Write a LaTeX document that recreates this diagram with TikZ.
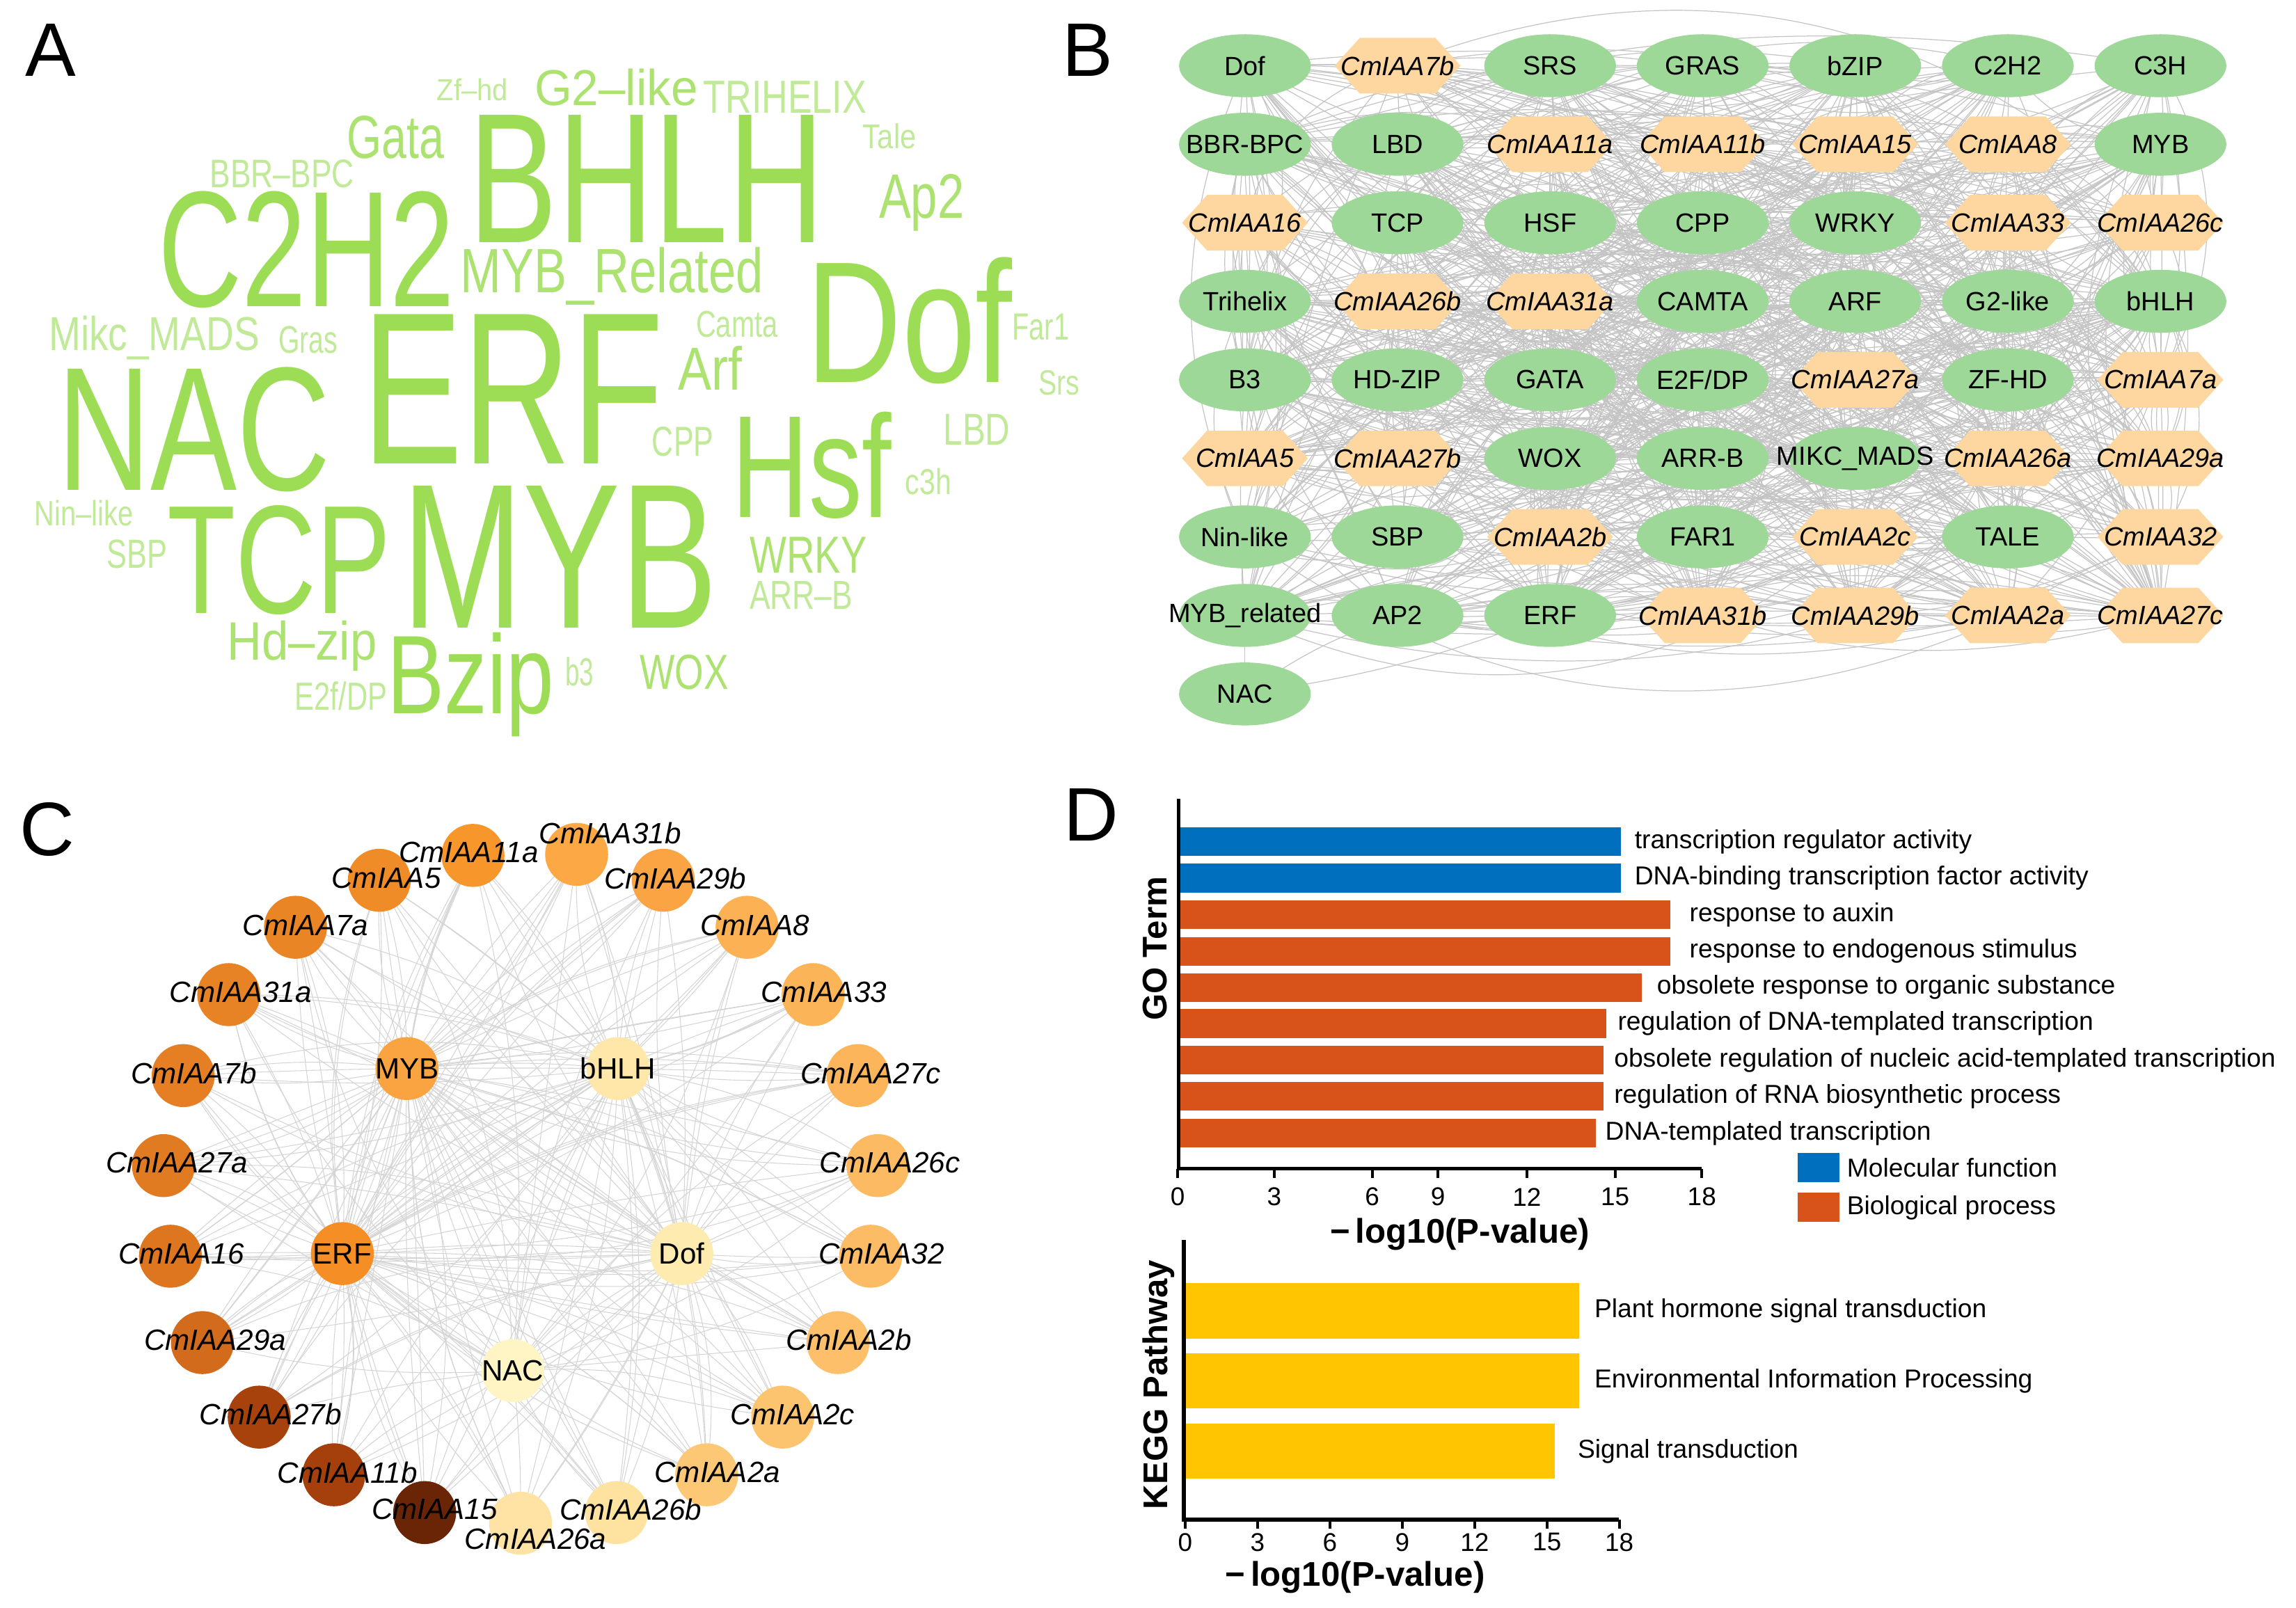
\documentclass[tikz,border=0pt]{standalone}
\usepackage{fontspec}
\usepackage{graphicx}
\usepackage{xcolor}
\setmainfont{Liberation Sans}
\usetikzlibrary{shapes.geometric,calc,backgrounds}
\newlength\pxu
\setlength\pxu{0.2104mm}
% colours
\definecolor{wcA}{RGB}{157,221,85}
\definecolor{wcB}{RGB}{172,226,112}
\definecolor{wcC}{RGB}{192,233,152}
\definecolor{tfgreen}{RGB}{158,216,152}
\definecolor{iaapeach}{RGB}{253,214,160}
\definecolor{edgegray}{RGB}{196,196,196}
\definecolor{cgray}{RGB}{212,212,212}
\definecolor{goblue}{RGB}{0,112,190}
\definecolor{gored}{RGB}{216,83,26}
\definecolor{keggyellow}{RGB}{255,198,0}
\tikzset{
  panel/.style={anchor=base west, inner sep=0, font=\fontsize{31pt}{34pt}\selectfont},
  wc/.style={anchor=base west, inner sep=0},
  btext/.style={inner sep=0, font=\fontsize{10.8pt}{13pt}\selectfont},
  tf/.style={ellipse, fill=tfgreen, minimum width=90\pxu, minimum height=43\pxu, inner sep=0},
  iaa/.style={rectangle, minimum width=86\pxu, minimum height=38\pxu, inner sep=0,
    path picture={\fill[iaapeach] (path picture bounding box.west)
      -- ($(path picture bounding box.north west)!0.2!(path picture bounding box.north east)$)
      -- ($(path picture bounding box.north west)!0.8!(path picture bounding box.north east)$)
      -- (path picture bounding box.east)
      -- ($(path picture bounding box.south west)!0.8!(path picture bounding box.south east)$)
      -- ($(path picture bounding box.south west)!0.2!(path picture bounding box.south east)$)
      -- cycle;}},
  bedge/.style={draw=edgegray, line width=0.35pt},
  cnode/.style={circle, minimum size=43\pxu, inner sep=0},
  clab/.style={inner sep=0, font=\fontsize{12pt}{14pt}\selectfont\itshape},
  hlab/.style={inner sep=0, font=\fontsize{12pt}{14pt}\selectfont},
  cedge/.style={draw=cgray, line width=0.3pt},
  axline/.style={line width=1.5pt},
  tickl/.style={inner sep=0, font=\fontsize{10.5pt}{12pt}\selectfont},
  dlab/.style={anchor=west, inner sep=0, font=\fontsize{10.6pt}{13pt}\selectfont},
  axtitle/.style={inner sep=0, font=\fontsize{14pt}{16pt}\selectfont\bfseries}
}
\begin{document}
\begin{tikzpicture}[x=0.02104cm, y=-0.02104cm]
\useasboundingbox (0,0) rectangle (1568,1098);
% panel letters
\node[panel] (pA) at (17,52) {A};
\node[panel] (pB) at (725,52) {B};
\node[panel] (pC) at (13,584.5) {C};
\node[panel] (pD) at (726,574.5) {D};

% A: word cloud
\foreach \w/\wx/\wy/\ww/\wh/\wcol [count=\k] in {
  Zf–hd/298/68.7/48.5/15/wcC, G2–like/364.7/72/111.6/25/wcB,
  TRIHELIX/480/77/111.5/21.8/wcC, Gata/236.7/107.9/66.4/29/wcB,
  Tale/589/101.5/36.4/17/wcC, BBR–BPC/143/128/98.5/19/wcC,
  BHLH/320/165.8/242.5/87/wcA, Ap2/600/149/58.2/30/wcB,
  C2H2/107.7/209.4/202.7/78.7/wcA, MYB\_Related/314/200/207/31/wcB,
  Dof/550.5/261.3/140.6/85.4/wcA, Camta/475/230.5/55.8/17.8/wcC,
  Far1/691/232/38.8/17.8/wcC, Mikc\_MADS/33/239.5/144/23.5/wcC,
  Gras/190/241.2/40.3/18.4/wcC, Arf/463/266.3/43.7/30/wcB,
  ERF/247/316.6/206/102/wcA, NAC/38.8/335/186.7/84/wcA,
  Srs/709/269.7/28/16.7/wcC, CPP/445/311.6/42/20/wcC,
  LBD/644/304/45.6/21/wcC, Hsf/499.6/353.4/109/72/wcA,
  c3h/618/337.7/31.5/17.8/wcC, Nin–like/23.3/359/67.4/17.4/wcC,
  TCP/114/418.8/152.8/73.7/wcA, MYB/274/428.8/215.8/97/wcA,
  SBP/72.8/388/41.2/19.4/wcC, WRKY/511.7/391.3/80/24.5/wcB,
  ARR–B/511.7/416/70.3/19/wcC, Hd–zip/155/450.6/102/26.8/wcB,
  Bzip/264/487.4/114/55.3/wcA, b3/385.6/468.3/19.4/19.4/wcC,
  WOX/436.5/470.7/60.6/23.5/wcB, {E2f/DP}/201/485/63/19.4/wcC}
  \node[wc, text=\wcol] (w\k) at (\wx,\wy) {\resizebox{\ww\pxu}{\wh\pxu}{\w}};

% B: network grid
\foreach \t/\n [count=\k from 0] in {
  tf/Dof, iaa/\textit{CmIAA7b}, tf/SRS, tf/GRAS, tf/bZIP, tf/C2H2, tf/C3H,
  tf/BBR-BPC, tf/LBD, iaa/\textit{CmIAA11a}, iaa/\textit{CmIAA11b}, iaa/\textit{CmIAA15}, iaa/\textit{CmIAA8}, tf/MYB,
  iaa/\textit{CmIAA16}, tf/TCP, tf/HSF, tf/CPP, tf/WRKY, iaa/\textit{CmIAA33}, iaa/\textit{CmIAA26c},
  tf/Trihelix, iaa/\textit{CmIAA26b}, iaa/\textit{CmIAA31a}, tf/CAMTA, tf/ARF, tf/G2-like, tf/bHLH,
  tf/B3, tf/HD-ZIP, tf/GATA, tf/{E2F/DP}, iaa/\textit{CmIAA27a}, tf/ZF-HD, iaa/\textit{CmIAA7a},
  iaa/\textit{CmIAA5}, iaa/\textit{CmIAA27b}, tf/WOX, tf/ARR-B, tf/MIKC\_MADS, iaa/\textit{CmIAA26a}, iaa/\textit{CmIAA29a},
  tf/Nin-like, tf/SBP, iaa/\textit{CmIAA2b}, tf/FAR1, iaa/\textit{CmIAA2c}, tf/TALE, iaa/\textit{CmIAA32},
  tf/MYB\_related, tf/AP2, tf/ERF, iaa/\textit{CmIAA31b}, iaa/\textit{CmIAA29b}, iaa/\textit{CmIAA2a}, iaa/\textit{CmIAA27c},
  tf/NAC}{
  \pgfmathsetmacro\bx{850.2+104.2*mod(\k,7)}
  \pgfmathsetmacro\by{44.9+53.64*int(\k/7)}
  \node[\t, label={[btext]center:\n}] (b\k) at (\bx,\by) {};
}
\begin{scope}[on background layer]
  \pgfmathsetseed{2310}
  \foreach \e in {1,...,950}{
    \pgfmathsetmacro\ea{int(random(0,55))}
    \pgfmathsetmacro\eb{int(random(0,55))}
    \pgfmathsetmacro\eg{rand*35}
    \ifnum\ea=\eb\relax\else
      \draw[bedge] (b\ea.center) to[bend left=\eg] (b\eb.center);
    \fi
  }
  \draw[bedge] (b56.center) -- (b49.center);
  \draw[bedge] (b56.center) to[bend left=8] (b50.center);
  \draw[bedge] (b56.center) to[bend right=6] (b51.center);
\end{scope}

% C: circular network
\def\clist{11a/323/584.3/320.1/582.1/F7962A, 31b/393.8/583.6/416.6/569.2/FBA845,
  5/259/601.3/263.8/599.8/EF8C28, 29b/453/601.3/461.2/600.2/FAA444,
  7a/201.8/633.4/208.6/632.2/EA8526, 8/510.2/633.4/515.6/632.2/FBB154,
  31a/156.2/679.4/164.4/677.9/E78225, 33/555.3/679.4/562.6/677.9/FCB458,
  7b/125.1/734.7/132.4/733.2/E67F24, 27c/585.9/734.7/594.6/733.2/FCB55A,
  27a/111.6/796.2/120.8/794.4/E17B22, 26c/599.5/796.2/607.7/794.4/FCBA62,
  16/116.4/858.1/123.7/856.3/DE751F, 32/594.6/858.1/601.9/856.3/FCBC65,
  29a/138.2/917.1/147/915.3/D36B1C, 2b/572.3/917.1/579.6/915.3/FDBF69,
  27b/177/968/184.8/966.1/A8420C, 2c/534.5/968/541.3/966.1/FDC46F,
  11b/228/1007.4/237.2/1005.9/A5400C, 2a/482.6/1007.4/489.9/1005.9/FDC875,
  15/290/1033.2/296.8/1031/6A2506, 26b/421/1033.2/430.7/1031/FEE29F,
  26a/355.5/1040.5/365.7/1051.2/FEE3A4}
\foreach \n/\x/\y/\lx/\ly/\hex in \clist{
  \definecolor{ctmp}{HTML}{\hex}
  \node[cnode, fill=ctmp] (c\n) at (\x,\y) {};
}
\foreach \n/\x/\y/\lx/\ly/\hex in \clist
  \node[clab] (l\n) at (\lx,\ly) {CmIAA\n};
\foreach \h/\x/\y/\hex in {MYB/277.9/729.9/F9A441, bHLH/422/729.9/FEE7A8,
  ERF/233.8/856.3/F58F25, Dof/465.6/856.3/FEEBB0, NAC/350.2/936.3/FFF5C4}{
  \definecolor{ctmp}{HTML}{\hex}
  \node[cnode, fill=ctmp, label={[hlab]center:\h}] (t\h) at (\x,\y) {};
}
\begin{scope}[on background layer]
  \pgfmathsetseed{77}
  \foreach \h/\m in {MYB/3, ERF/3, bHLH/2, Dof/2, NAC/1}
    \foreach \o in {11a,31b,5,29b,7a,8,31a,33,7b,27c,27a,26c,16,32,29a,2b,27b,2c,11b,2a,15,26b,26a}
      \foreach \r in {1,...,\m}{
        \pgfmathsetmacro\eg{rand*14}
        \draw[cedge] (t\h.center) to[bend left=\eg] (c\o.center);
      }
  \foreach \p/\q in {MYB/bHLH, MYB/ERF, ERF/Dof, bHLH/Dof, MYB/Dof, ERF/bHLH, NAC/MYB, NAC/ERF, NAC/Dof, NAC/bHLH}
    \draw[cedge] (t\p.center) to[bend left=5] (t\q.center);
\end{scope}

% D: GO enrichment
\foreach \yt/\xr/\bc/\lx/\txt [count=\k] in {
  565/1107/goblue/1116/transcription regulator activity,
  590/1107/goblue/1116/DNA-binding transcription factor activity,
  615/1140.6/gored/1153.5/response to auxin,
  640/1140.6/gored/1153.5/response to endogenous stimulus,
  664.7/1121/gored/1131.3/obsolete response to organic substance,
  689.4/1096.8/gored/1104.5/regulation of DNA-templated transcription,
  714.4/1095/gored/1102/obsolete regulation of nucleic acid-templated transcription,
  739/1095/gored/1102/regulation of RNA biosynthetic process,
  764.2/1090/gored/1096/DNA-templated transcription}{
  \fill[\bc] (805,\yt) rectangle (\xr,\yt+19.6);
  \node[dlab] (go\k) at (\lx,\yt+9.8) {\txt};
}
\draw[axline] (805,545.6) -- (805,798.4) -- (1162.2,798.4);
\foreach \v/\tx in {0/804.3,3/870.2,6/937.1,9/982,12/1042.7,15/1103,18/1162.2}{
  \draw[line width=1.2pt] (\tx,798.4) -- (\tx,804.5);
  \node[tickl] (gt\v) at (\tx,817.6) {\v};
}
\node[axtitle] (gox) at (997,843) {−\,log10(P-value)};
\node[axtitle, rotate=90] (goy) at (789,648) {GO Term};
\fill[goblue] (1227.6,787.4) rectangle (1256,807.3);
\node[dlab] (lgmf) at (1261,797.5) {Molecular function};
\fill[gored] (1227.6,814.6) rectangle (1256,834.6);
\node[dlab] (lgbp) at (1261,825) {Biological process};

% D: KEGG enrichment
\foreach \yt/\yb/\xr/\lx/\txt [count=\k] in {
  876.6/914.5/1078.3/1088.6/Plant hormone signal transduction,
  924.5/962/1078.3/1088.6/Environmental Information Processing,
  972.4/1010/1061.8/1077.2/Signal transduction}{
  \fill[keggyellow] (808.4,\yt) rectangle (\xr,\yb);
  \node[dlab] (kg\k) at (\lx,{(\yt+\yb)/2}) {\txt};
}
\draw[axline] (808.4,847) -- (808.4,1038) -- (1105.6,1038);
\foreach \v in {0,3,...,18}{
  \draw[line width=1.2pt] (809.4+16.47*\v,1038) -- (809.4+16.47*\v,1044);
  \node[tickl] (kt\v) at (809.4+16.47*\v,1053.4) {\v};
}
\node[axtitle] (kgx) at (925.3,1077.4) {−\,log10(P-value)};
\node[axtitle, rotate=90] (kgy) at (791.4,945.8) {KEGG Pathway};
\end{tikzpicture}
\end{document}
